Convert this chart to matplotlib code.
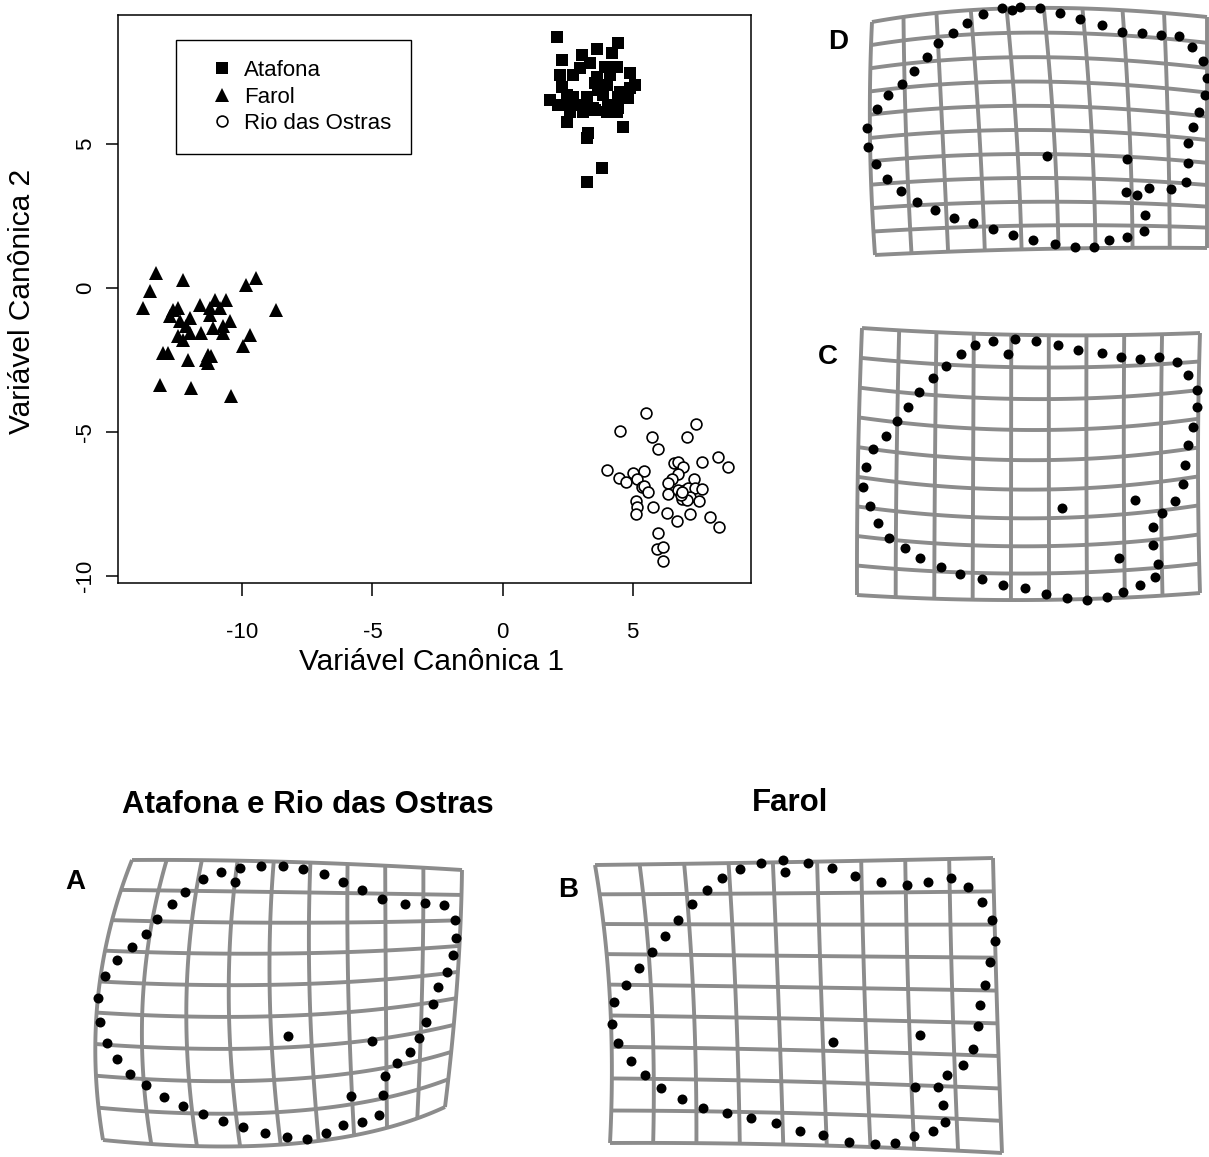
import matplotlib
matplotlib.use('Agg')
import matplotlib.pyplot as plt
import numpy as np

plt.rcParams['font.family'] = ['Liberation Sans', 'DejaVu Sans']

# canonical variate scores
atafona_x = [2.08, 3.62, 4.45, 4.20, 3.04, 2.28, 3.36, 3.94, 4.39, 2.98, 2.21, 2.72, 4.90, 3.62, 4.13,
             3.55, 4.00, 5.09, 2.28, 3.68, 4.52, 4.90, 1.83, 2.47, 2.72, 3.24, 3.87, 4.45, 4.83, 2.14,
             2.59, 3.04, 3.49, 4.07, 4.45, 2.59, 3.11, 3.55, 4.00, 4.39, 2.47, 4.64, 3.30, 3.24, 3.81, 3.24]
atafona_y = [8.73, 8.30, 8.50, 8.15, 8.09, 7.92, 7.80, 7.68, 7.68, 7.63, 7.40, 7.40, 7.45, 7.34, 7.40,
             7.11, 7.05, 7.05, 6.99, 6.88, 6.82, 6.93, 6.53, 6.70, 6.64, 6.64, 6.70, 6.64, 6.59, 6.35,
             6.35, 6.35, 6.24, 6.35, 6.24, 6.12, 6.12, 6.18, 6.10, 6.12, 5.77, 5.60, 5.37, 5.20, 4.16, 3.69]

farol_x = [-13.31, -12.28, -9.46, -9.85, -13.56, -13.82, -8.69, -12.66, -12.47, -11.64, -11.06, -10.61, -11.25,
           -10.87, -12.79, -12.02, -11.25, -12.41, -12.15, -10.48, -11.13, -10.74, -11.58, -12.02, -12.47, -12.28,
           -10.74, -9.72, -9.97, -13.05, -12.85, -12.09, -11.32, -11.32, -11.38, -11.19, -13.17, -11.96, -10.42]
farol_y = [0.52, 0.29, 0.35, 0.11, -0.09, -0.69, -0.75, -0.75, -0.69, -0.58, -0.41, -0.41, -0.69,
           -0.69, -0.98, -1.04, -0.93, -1.16, -1.33, -1.16, -1.39, -1.33, -1.56, -1.56, -1.68, -1.80,
           -1.56, -1.62, -2.02, -2.26, -2.26, -2.49, -2.32, -2.60, -2.49, -2.37, -3.36, -3.47, -3.76]

rio_x = [5.50, 4.52, 7.44, 5.73, 7.10, 5.99, 6.60, 6.73, 7.66, 8.27, 8.65, 6.95, 4.03, 5.00, 5.45, 4.49, 4.75,
         5.18, 6.73, 6.53, 6.35, 7.36, 5.37, 5.45, 5.60, 6.37, 6.73, 7.01, 7.12, 7.40, 7.66, 6.91, 7.21, 7.08,
         7.55, 5.12, 5.16, 5.12, 5.80, 6.33, 6.72, 7.21, 7.99, 8.32, 5.99, 5.93, 6.18, 6.17, 6.86, 6.91]
rio_y = [-4.35, -4.97, -4.72, -5.18, -5.18, -5.60, -6.09, -6.04, -6.05, -5.86, -6.20, -6.20, -6.32, -6.41,
         -6.35, -6.59, -6.73, -6.64, -6.46, -6.62, -6.78, -6.63, -6.92, -6.88, -7.07, -7.15, -7.01, -7.01,
         -6.95, -6.95, -6.99, -7.33, -7.27, -7.36, -7.39, -7.39, -7.59, -7.86, -7.59, -7.82, -8.08, -7.86,
         -7.96, -8.29, -8.50, -9.05, -8.98, -9.47, -7.20, -7.07]

# deformation grids: 3x3 control net (top/mid/bottom rows, left/mid/right cols), image pixels
grid_d_x = [[872, 1025, 1207], [870, 1035, 1207], [875, 1040, 1207]]
grid_d_y = [[22, 8, 17], [138, 130, 140], [255, 249, 248]]
grid_c_x = [[862, 1030, 1200], [858, 1030, 1198], [857, 1030, 1200]]
grid_c_y = [[328, 335, 333], [462, 475, 462], [595, 600, 593]]
grid_a_x = [[132, 292, 462], [98, 290, 457], [103, 300, 445]]
grid_a_y = [[860, 862, 870], [997, 1000, 985], [1140, 1143, 1107]]
grid_b_x = [[595, 795, 993], [610, 800, 997], [610, 805, 1002]]
grid_b_y = [[865, 862, 858], [1000, 1003, 1007], [1143, 1145, 1153]]
grid_lines = {'D': (10, 11), 'C': (10, 10), 'A': (10, 10), 'B': (10, 10)}

# landmark positions (image pixels)
lm_d_x = [1001.7, 1011.7, 1020, 1040, 1060, 1080, 1101.7, 1121.7, 1141.7, 1161, 1179.3, 1191.7, 1203.3, 1206.7,
          1205, 1199.3, 1193.3, 1188.3, 1188.3, 1186, 1170.7, 1149.3, 1136.7, 1126, 1145, 1144, 1126.7, 1109.3,
          1094, 1075, 1055, 1032.7, 1012.7, 993.3, 972.7, 954, 935, 916.7, 900.7, 886.7, 876, 868.3, 867.3,
          877.3, 888.3, 901.7, 914, 926.7, 938.3, 952.7, 966.7, 982.7, 1046.7, 1127.3]
lm_d_y = [8.3, 10, 6.7, 8.3, 13.3, 19.3, 25, 31.7, 33.3, 35, 36, 46.7, 60.7, 78.3, 95, 111.7, 126.7, 142.7,
          162.7, 181.7, 189.3, 187.7, 195, 192.3, 215, 231, 236.7, 240, 247.3, 247.3, 244, 240, 235, 229.3,
          223.3, 218.3, 210, 201.7, 190.7, 179.3, 164.3, 146.7, 127.7, 109.3, 95, 84.3, 70.7, 57.3, 43.3, 32.7,
          22.7, 14, 155.7, 159.3]
lm_c_x = [975, 993.3, 1015, 1036, 1058.3, 1078.3, 1101.7, 1120.7, 1140, 1159.3, 1176.7, 1188.3, 1196.7, 1197.3,
          1193.3, 1188.3, 1185, 1183.3, 1175, 1161.7, 1153.3, 1152.7, 1158.3, 1155, 1140, 1123.3, 1106.7, 1086.7,
          1066.7, 1046, 1025, 1002.7, 981.7, 960, 940.7, 920, 905, 889.3, 878.3, 870, 863.3, 866, 873.3, 886,
          897.3, 908.3, 919.3, 932.7, 946, 960.7, 1008.3, 1135, 1119.3, 1062.3]
lm_c_y = [345, 340.7, 339.3, 340.7, 345, 350, 353.3, 356.7, 359.3, 357.3, 361.7, 375, 390, 407.3, 426.7, 445,
          465, 484, 500.7, 513.3, 526.7, 545, 564, 577.3, 585, 591.7, 597.3, 600, 598.3, 594, 588.3, 585, 579.3,
          574.3, 566.7, 558.3, 548.3, 537.7, 522.7, 506, 486.7, 466.7, 449.3, 436, 420.7, 406.7, 391.7, 378.3,
          366, 354, 354.3, 500, 558.3, 507.7]
lm_a_x = [202.7, 220.7, 240, 260.7, 282.7, 303.3, 324, 343.3, 362.3, 381.7, 405, 425, 444, 455, 456, 453.3,
          446.7, 438.3, 433.3, 426, 419.3, 410, 396.7, 385, 383.3, 379.3, 362.3, 343.3, 326, 307.3, 286.7, 265,
          243.3, 222.7, 202.7, 182.7, 164, 146, 130, 116.7, 107.3, 100, 98.3, 105, 116.7, 131.7, 146, 157.3,
          171.7, 185, 235, 288.3, 371.7, 350.7]
lm_a_y = [879.3, 871.7, 868.3, 865.7, 865.7, 869, 874, 881.7, 890, 899.3, 904.3, 902.7, 905, 920, 938.3, 955,
          971.7, 987.3, 1004, 1021.7, 1038.3, 1051.7, 1062.7, 1076, 1095, 1115, 1121.7, 1125, 1133.3, 1139.3,
          1136.7, 1132.7, 1127.3, 1120.7, 1114, 1105.7, 1096.7, 1085, 1074, 1059.3, 1042.7, 1021.7, 998.3, 976,
          960, 947.3, 934, 919.3, 904, 891.7, 881.7, 1035.7, 1040.7, 1095.7]
lm_b_x = [740, 761, 783.3, 785, 808.3, 831.7, 855, 880.7, 906.7, 928.3, 950.7, 968.3, 981.7, 991.7, 995, 990,
          985, 980, 978.3, 972.7, 962.7, 947.3, 938.3, 942.7, 945, 933.3, 914, 895, 875, 849.3, 823.3, 800, 776,
          750.7, 727.3, 703.3, 681.7, 660.7, 645, 630.7, 618.3, 611.7, 614, 626, 639.3, 651.7, 665, 678.3,
          691.7, 706.7, 721.7, 833.3, 920, 915]
lm_b_y = [869.3, 862.7, 860, 871.7, 862.7, 868.3, 876, 881.7, 885, 881.7, 878.3, 886.7, 901.7, 920, 940.7,
          961.7, 985, 1005, 1026, 1049.3, 1065, 1075, 1086.7, 1105, 1121.7, 1130.7, 1136, 1142.7, 1144, 1141.7,
          1135, 1130.7, 1123.3, 1118.3, 1113.3, 1108.3, 1099.3, 1088.3, 1075, 1060.7, 1043.3, 1024, 1002.3, 985,
          968.3, 951.7, 936, 920, 904, 890, 878.3, 1041.7, 1035, 1087.3]

W, H = 1209, 1157
fig = plt.figure(figsize=(W / 100, H / 100), dpi=100)
fig.patch.set_facecolor('white')

# overlay in pixel coordinates for the warped grids and labels
ov = fig.add_axes([0, 0, 1, 1])
ov.set_xlim(0, W)
ov.set_ylim(H, 0)
ov.axis('off')


def quad_basis(t):
    return np.array([2 * (t - 0.5) * (t - 1), -4 * t * (t - 1), 2 * t * (t - 0.5)])


def warp(cx, cy, u, v):
    cx, cy = np.asarray(cx, float), np.asarray(cy, float)
    bu, bv = quad_basis(u), quad_basis(v)
    return bv @ cx @ bu, bv @ cy @ bu


def draw_grid(ax, cx, cy, ncols, nrows):
    t = np.linspace(0, 1, 60)
    for v in np.linspace(0, 1, nrows):
        pts = [warp(cx, cy, uu, v) for uu in t]
        ax.plot([p[0] for p in pts], [p[1] for p in pts], color='#8c8c8c', lw=2.8,
                solid_capstyle='butt', zorder=1)
    for u in np.linspace(0, 1, ncols):
        pts = [warp(cx, cy, u, vv) for vv in t]
        ax.plot([p[0] for p in pts], [p[1] for p in pts], color='#8c8c8c', lw=2.8,
                solid_capstyle='butt', zorder=1)


panels = [
    ('D', grid_d_x, grid_d_y, lm_d_x, lm_d_y, (838, 42)),
    ('C', grid_c_x, grid_c_y, lm_c_x, lm_c_y, (828, 357)),
    ('A', grid_a_x, grid_a_y, lm_a_x, lm_a_y, (75, 882)),
    ('B', grid_b_x, grid_b_y, lm_b_x, lm_b_y, (568, 890)),
]
for name, gx, gy, lx, ly, pos in panels:
    nc, nr = grid_lines[name]
    draw_grid(ov, gx, gy, nc, nr)
    ov.plot(lx, ly, 'o', color='black', ms=7.2, mew=0, zorder=3)
    ov.text(pos[0], pos[1], name, fontsize=20, fontweight='bold', ha='center', va='center')

ov.text(308, 805, 'Atafona e Rio das Ostras', fontsize=22.5, fontweight='bold', ha='center', va='center')
ov.text(790, 803, 'Farol', fontsize=22.5, fontweight='bold', ha='center', va='center')

# scatter of canonical scores
ax = fig.add_axes([118 / W, 1 - 583 / H, (751 - 118) / W, (583 - 15) / H])
ax.set_facecolor('none')
ax.plot(atafona_x, atafona_y, 's', color='black', ms=8, mew=0, label='Atafona')
ax.plot(farol_x, farol_y, '^', color='black', ms=10, mew=0, label='Farol')
ax.plot(rio_x, rio_y, 'o', mfc='white', mec='black', ms=7.8, mew=1.2, label='Rio das Ostras')
ax.set_xlim(-14.78, 9.55)
ax.set_ylim(-10.24, 9.48)
ax.set_xticks([-10, -5, 0, 5])
ax.set_yticks([-10, -5, 0, 5])
ax.set_xticklabels(['-10', '-5', '0', '5'])
ax.set_yticklabels(['-10', '-5', '0', '5'], rotation=90, va='center')
ax.tick_params(direction='out', length=9, width=1.1, labelsize=16, pad=19, axis='x')
ax.tick_params(direction='out', length=9, width=1.1, labelsize=16, pad=7, axis='y')
for s in ax.spines.values():
    s.set_linewidth(1.1)
ax.set_xlabel('Variável Canônica 1', fontsize=21.5)
ax.xaxis.set_label_coords(0.496, -0.139)
ax.xaxis.label.set_va('center')
ax.set_ylabel('Variável Canônica 2', fontsize=21.5)
ax.yaxis.set_label_coords(-0.152, 0.4965)
ax.yaxis.label.set_va('center')

leg = ax.legend(loc='upper left', bbox_to_anchor=(0.0916, 0.956), borderaxespad=0,
                fontsize=16, handlelength=2.3, handletextpad=-0.15, borderpad=0.9,
                labelspacing=0.25, fancybox=False, edgecolor='black', framealpha=1)
leg.get_frame().set_linewidth(1.0)

fig.savefig('out.png', dpi=100, facecolor='white')
